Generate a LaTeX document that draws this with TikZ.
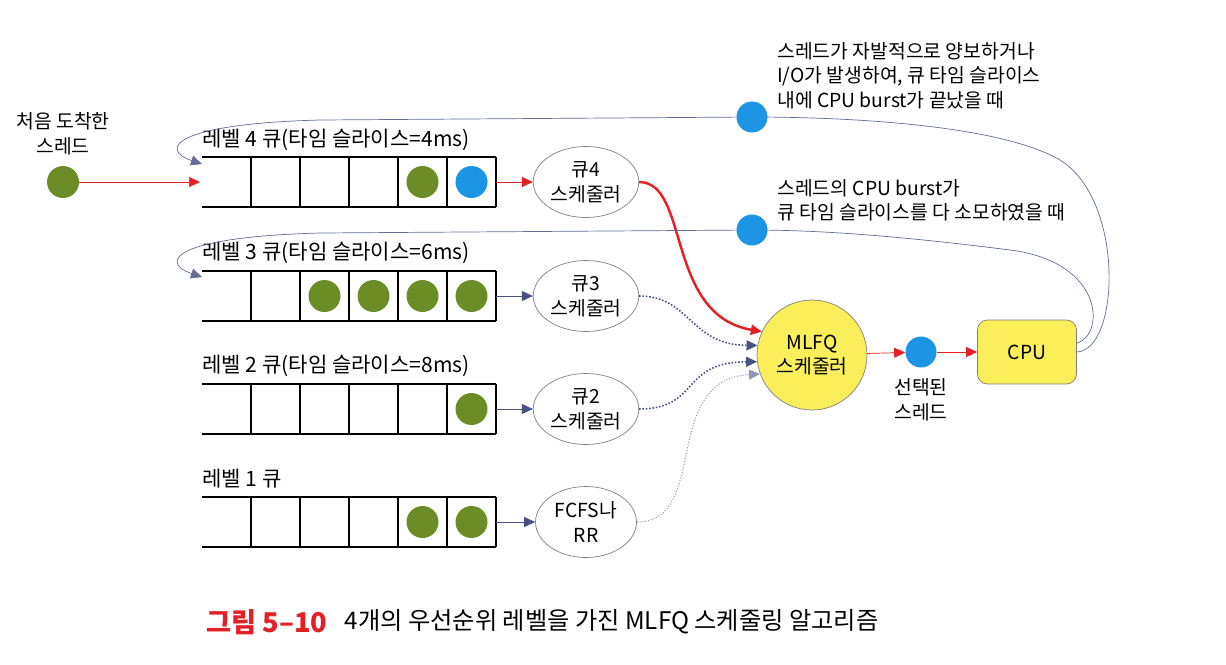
\documentclass[tikz,border=0pt]{standalone}
\usepackage{fontspec}
\setmainfont{Noto Sans CJK KR}
\usetikzlibrary{arrows.meta,shapes.geometric}

\definecolor{arrred}{RGB}{228,32,38}
\definecolor{arrblue}{RGB}{72,82,130}
\definecolor{dotgreen}{RGB}{108,140,38}
\definecolor{dotblue}{RGB}{28,150,228}
\definecolor{cpuyellow}{RGB}{250,238,90}

\tikzset{
  greendot/.style={circle,fill=dotgreen,inner sep=0pt,minimum size=0.64cm},
  bluedot/.style={circle,fill=dotblue,inner sep=0pt,minimum size=0.62cm},
  sched/.style={ellipse,draw=gray,minimum width=2.02cm,minimum height=1.42cm,align=center,inner sep=1pt},
  lbl/.style={anchor=west},
  qlbl/.style={anchor=west,font=\fontsize{12pt}{14pt}\selectfont},
  redarr/.style={draw=arrred,-{Triangle[length=2.2mm,width=2mm]}},
  bluearr/.style={draw=arrblue,-{Triangle[length=2.2mm,width=2mm]}}
}

\begin{document}
\begin{tikzpicture}[x=0.02cm,y=-0.02cm,font=\fontsize{11pt}{14pt}\selectfont]
\useasboundingbox (0,0) rectangle (1226,664);

\foreach \y in {182,296,409,522} {
  \draw [line width=0.7pt] (202,{\y-25}) -- (496,{\y-25});
  \draw [line width=0.7pt] (202,{\y+25}) -- (496,{\y+25});
  \foreach \k in {1,...,6}
    \draw [line width=0.7pt] ({202+49*\k},{\y-25}) -- ({202+49*\k},{\y+25});
}

\node [qlbl] (l4) at (196,140) {레벨 4 큐(타임 슬라이스=4ms)};
\node [qlbl] (l3) at (196,253) {레벨 3 큐(타임 슬라이스=6ms)};
\node [qlbl] (l2) at (196,366) {레벨 2 큐(타임 슬라이스=8ms)};
\node [qlbl] (l1) at (196,479) {레벨 1 큐};

\node [greendot] (q4c5) at (422.5,182) {};
\node [bluedot,minimum size=0.64cm] (q4c6) at (471.5,182) {};
\foreach \k in {3,...,6}
  \node [greendot] (q3c\k) at ({202+49*(\k-1)+24.5},296) {};
\node [greendot] (q2c6) at (471.5,409) {};
\node [greendot] (q1c5) at (422.5,522) {};
\node [greendot] (q1c6) at (471.5,522) {};

\coordinate (q4in) at (200,182);
\coordinate (q4fb) at (202,164);
\coordinate (q3fb) at (202,277);
\coordinate (q4out) at (496,182);
\coordinate (q3out) at (496,296);
\coordinate (q2out) at (496,409);
\coordinate (q1out) at (496,522);

\node [sched] (s4) at (586,182) {큐4\\스케줄러};
\node [sched] (s3) at (586,296) {큐3\\스케줄러};
\node [sched] (s2) at (586,409) {큐2\\스케줄러};
\node [sched] (s1) at (586,522) {FCFS나\\RR};

\node [greendot] (newth) at (63,182) {};
\node [align=center] (newlbl) at (63,134) {처음 도착한\\스레드};

\node [circle,draw=gray,fill=cpuyellow,minimum size=2.2cm,align=center,inner sep=1pt] (mlfq) at (812,355) {MLFQ\\스케줄러};
\node [bluedot] (sel) at (921,352) {};
\node [align=center] (sellbl) at (921,400) {선택된\\스레드};
\node [draw=gray,fill=cpuyellow,rounded corners=0.2cm,minimum width=1.98cm,minimum height=1.28cm] (cpu) at (1027,352) {CPU};

\draw [redarr] (newth) -- (q4in);
\draw [redarr] (q4out) -- (s4);
\draw [bluearr] (q3out) -- (s3);
\draw [bluearr] (q2out) -- (s2);
\draw [bluearr] (q1out) -- (s1);

\draw [redarr,line width=1.4pt] (s4.east) .. controls (690,182) and (665,315) .. (mlfq.155);
\draw [bluearr,densely dotted,line width=0.9pt] (s3.east) .. controls (690,296) and (690,345) .. (mlfq.170);
\draw [bluearr,densely dotted,line width=0.9pt] (s2.east) .. controls (700,409) and (680,362) .. (mlfq.187);
\draw [bluearr,draw=arrblue!60,densely dotted,line width=0.6pt] (s1.east) .. controls (710,522) and (660,380) .. (mlfq.200);

\draw [redarr] (mlfq) -- (sel);
\draw [redarr] (sel) -- (cpu);

\draw [bluearr,draw=arrblue!85] (cpu.east) .. controls (1120,350) and (1125,200) .. (1060,160) .. controls (1000,125) and (850,117) .. (752,117) -- (320,120) .. controls (170,124) and (160,150) .. (q4fb);
\draw [bluearr,draw=arrblue!85] (cpu.10) .. controls (1105,335) and (1105,262) .. (1010,250) .. controls (900,236) and (820,230) .. (752,230) -- (320,233) .. controls (170,237) and (160,263) .. (q3fb);

\node [bluedot] (fb1) at (752,117) {};
\node [bluedot] (fb2) at (752,230) {};

\node [lbl,align=left,anchor=north west] (why1) at (771,36) {스레드가 자발적으로 양보하거나\\I/O가 발생하여, 큐 타임 슬라이스\\내에 CPU burst가 끝났을 때};
\node [lbl,align=left,anchor=north west] (why2) at (771,173) {스레드의 CPU burst가\\큐 타임 슬라이스를 다 소모하였을 때};

\node [anchor=west,text=arrred,font=\fontsize{15.5pt}{18pt}\selectfont\bfseries] (capnum) at (200,622) {그림 5--10};
\node [anchor=west,font=\fontsize{13.8pt}{16pt}\selectfont] (captxt) at ([xshift=0.1cm]capnum.east) {4개의 우선순위 레벨을 가진 MLFQ 스케줄링 알고리즘};

\end{tikzpicture}
\end{document}
